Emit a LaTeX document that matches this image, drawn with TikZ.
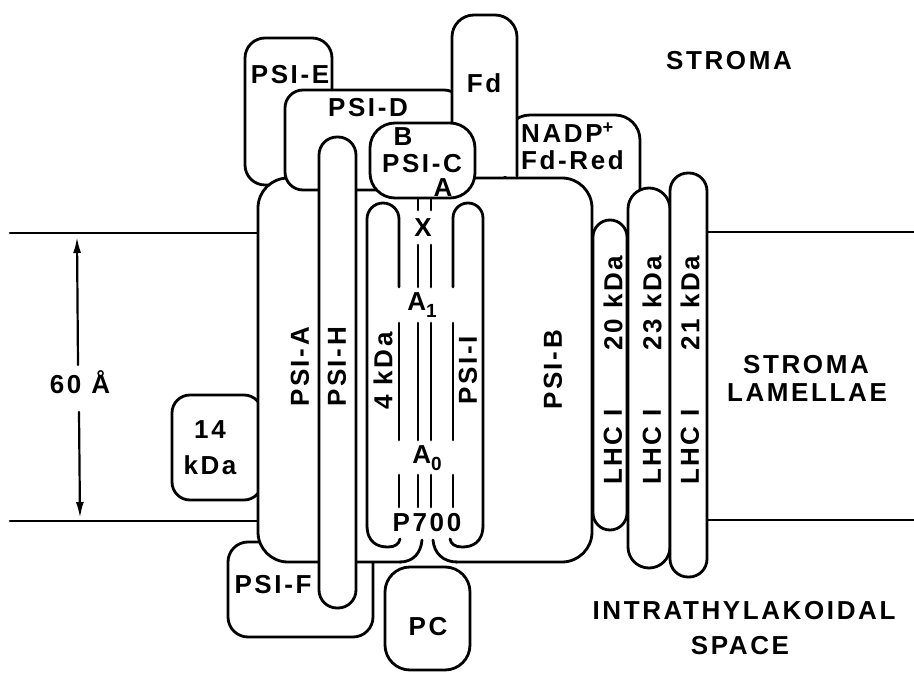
\documentclass[tikz,border=0pt]{standalone}
\usepackage{fontspec}
\setmainfont{Liberation Sans}[LetterSpace=10]
\usetikzlibrary{arrows.meta}

\newcommand{\sublbl}[1]{\raisebox{-0.5ex}{\fontsize{19}{19}\selectfont #1}}

\tikzset{
	outline/.style={line width=2.8pt, fill=white, line join=round},
	subunit/.style={outline, rounded corners=#1},
	membrane/.style={line width=2.4pt},
	cofactor/.style={line width=2.8pt},
	dimarrow/.style={line width=2.2pt, -{Latex[length=16pt, width=8pt]}},
	txt/.style={font=\bfseries\fontsize{26}{28}\selectfont, inner sep=0pt},
	vtxt/.style={txt, rotate=90}
}

\begin{document}
\begin{tikzpicture}[x=1pt, y=-1pt, line cap=round]
	\useasboundingbox (0,0) rectangle (914,682);

	% membrane
	\draw[membrane] (10,233) -- (258,233);
	\draw[membrane] (10,521) -- (258,521);
	\draw[membrane] (700,232) -- (914,232);
	\draw[membrane] (700,520) -- (914,520);

	% subunits lying behind the core
	\draw[subunit=20] (245,38) rectangle (332,185);   % PSI-E
	\draw[subunit=20] (228,542) rectangle (373,637);  % PSI-F
	\draw[subunit=18] (172,395) rectangle (262,500);  % 14 kDa
	\draw[subunit=25] (505,115) rectangle (640,260);  % NADP+ / Fd-Red

	% PSI-A / PSI-B core, open at P700
	\draw[subunit=30] (258,178) rectangle (592,562);
	\fill[white] (401,557) rectangle (456,567);
	\draw[cofactor] (400,562) .. controls (413,562) and (421,553) .. (422,540);
	\draw[cofactor] (457,562) .. controls (443,562) and (434,553) .. (433,540);

	% light harvesting complexes
	\draw[subunit=17] (593,220) rectangle (627,530);
	\draw[subunit=21] (628,188) rectangle (670,568);
	\draw[subunit=18] (670,173) rectangle (707,577);

	% stromal side
	\draw[subunit=18] (285,90) rectangle (462,190);   % PSI-D
	\draw[outline, rounded corners=22] (452,176) -- (452,15) -- (517,15) -- (517,176); % Fd
	\draw[subunit=25] (370,123) rectangle (475,198);  % PSI-C
	\draw[subunit=18] (319,137) rectangle (356,608);  % PSI-H
	\draw[subunit=25] (385,567) rectangle (470,670);  % PC

	% 4 kDa and PSI-I inside the core
	\draw[cofactor, rounded corners=16] (399,287) -- (399,203) -- (367,203) -- (367,525);
	\draw[cofactor] (367,525) .. controls (367,543) and (378,547) .. (388,547) .. controls (395,547) and (399,544) .. (400,539);
	\draw[cofactor, rounded corners=15] (453,287) -- (453,203) -- (483,203) -- (483,525);
	\draw[cofactor] (483,525) .. controls (483,543) and (472,547) .. (462,547) .. controls (455,547) and (451,544) .. (450,539);

	% electron transfer chain
	\draw[cofactor] (418,199) -- (418,210) (431,199) -- (431,210);
	\draw[cofactor] (418,245) -- (418,287) (431,245) -- (431,287);
	\draw[cofactor] (399,323) -- (399,440) (418,323) -- (418,440) (431,323) -- (431,440) (453,323) -- (453,440);
	\draw[cofactor] (399,475) -- (399,507) (418,475) -- (418,507) (431,475) -- (431,507) (453,475) -- (453,507);

	% membrane thickness
	\coordinate (dimtop) at (77,237);
	\coordinate (dimup) at (78,365);
	\coordinate (dimdn) at (79,412);
	\coordinate (dimbot) at (80,518);
	\draw[dimarrow] (dimup) -- (dimtop);
	\draw[dimarrow] (dimdn) -- (dimbot);
	\node[txt] (dimlbl) at (80,382) {60 Å};

	% labels
	\node[txt] (psie) at (290,75) {PSI-E};
	\node[txt] (psid) at (368,108) {PSI-D};
	\node[txt] (fd) at (484,83) {Fd};
	\node[txt] (fb) at (403,137) {B};
	\node[txt] (psic) at (422,164) {PSI-C};
	\node[txt] (fa) at (443,188) {A};
	\node[txt, anchor=west] (nadp) at (521,133) {NADP\textsuperscript{+}};
	\node[txt, anchor=west] (fdred) at (521,160) {Fd-Red};
	\node[txt] (fx) at (423,228) {X};
	\node[txt] (aone) at (422,305) {A\sublbl{1}};
	\node[txt] (azero) at (427,458) {A\sublbl{0}};
	\node[txt] (psevh) at (427,523) {P700};
	\node[txt] (fourteen) at (210,430) {14};
	\node[txt] (fourteenk) at (210,465) {kDa};
	\node[txt] (psif) at (273,585) {PSI-F};
	\node[txt] (pc) at (428,627) {PC};

	\node[vtxt] (psia) at (300,367) {PSI-A};
	\node[vtxt] (psih) at (337,367) {PSI-H};
	\node[vtxt] (fourk) at (383,371) {4 kDa};
	\node[vtxt] (psii) at (468,370) {PSI-I};
	\node[vtxt] (psib) at (553,370) {PSI-B};
	\node[vtxt] (twentyk) at (613,303) {20 kDa};
	\node[vtxt] (lhca) at (613,447) {LHC I};
	\node[vtxt] (twthreek) at (652,303) {23 kDa};
	\node[vtxt] (lhcb) at (652,447) {LHC I};
	\node[vtxt] (twonek) at (690,303) {21 kDa};
	\node[vtxt] (lhcc) at (690,447) {LHC I};

	% compartments
	\node[txt] (stroma) at (729,61) {STROMA};
	\node[txt] (lamtop) at (806,365) {STROMA};
	\node[txt] (lambot) at (807,393) {LAMELLAE};
	\node[txt] (lumtop) at (744,611) {INTRATHYLAKOIDAL};
	\node[txt] (lumbot) at (740,646) {SPACE};
\end{tikzpicture}
\end{document}
